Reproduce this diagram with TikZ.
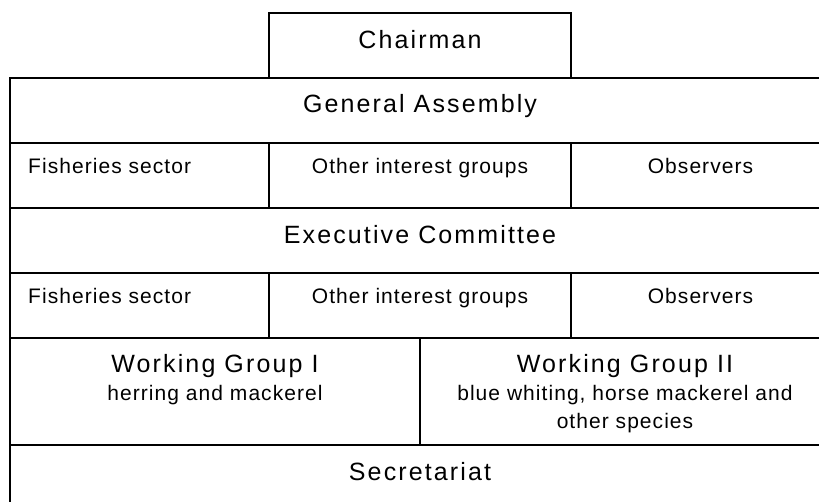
\documentclass[tikz,border=0pt]{standalone}
\usepackage{fontspec}
\setmainfont{Liberation Sans}
\newfontfamily\bigfont[LetterSpace=8.5]{Liberation Sans}
\newfontfamily\smallfont[LetterSpace=5]{Liberation Sans}

\tikzset{
    cell/.style={draw, line width=2pt, anchor=north west, inner sep=0pt, outer sep=0pt, minimum height=65pt},
    bigtxt/.style={font={\bigfont\fontsize{25}{30}\selectfont}, anchor=base, inner sep=0pt},
    smalltxt/.style={font={\smallfont\fontsize{21}{25}\selectfont}, anchor=base, inner sep=0pt}
}

\begin{document}
\begin{tikzpicture}[x=1pt, y=-1pt]
    \useasboundingbox (0,0) rectangle (819,502);
    \clip (0,0) rectangle (819,502);

    % Chairman and General Assembly
    \node[cell, minimum width=302pt] (chair) at (269,13) {};
    \node[bigtxt] (chairtxt) at ([yshift=-36pt]chair.north) {Chairman};
    \node[cell, minimum width=820pt] (assembly) at (10,78) {};
    \node[bigtxt] (assemblytxt) at ([yshift=-35pt]assembly.north) {General Assembly};

    % Members of the assembly
    \node[cell, minimum width=259pt] (fish1) at (10,143) {};
    \node[cell, minimum width=302pt] (other1) at (269,143) {};
    \node[cell, minimum width=259pt] (obs1) at (571,143) {};
    \node[smalltxt, anchor=base west] (fish1txt) at ([xshift=18pt, yshift=-31pt]fish1.north west) {Fisheries sector};
    \node[smalltxt] (other1txt) at ([yshift=-31pt]other1.north) {Other interest groups};
    \node[smalltxt] (obs1txt) at ([yshift=-31pt]obs1.north) {Observers};

    % Executive Committee
    \node[cell, minimum width=820pt] (exec) at (10,208) {};
    \node[bigtxt] (exectxt) at ([yshift=-36pt]exec.north) {Executive Committee};

    % Members of the committee
    \node[cell, minimum width=259pt] (fish2) at (10,273) {};
    \node[cell, minimum width=302pt] (other2) at (269,273) {};
    \node[cell, minimum width=259pt] (obs2) at (571,273) {};
    \node[smalltxt, anchor=base west] (fish2txt) at ([xshift=18pt, yshift=-31pt]fish2.north west) {Fisheries sector};
    \node[smalltxt] (other2txt) at ([yshift=-31pt]other2.north) {Other interest groups};
    \node[smalltxt] (obs2txt) at ([yshift=-31pt]obs2.north) {Observers};

    % Working groups
    \node[cell, minimum width=410pt, minimum height=107pt] (wgone) at (10,338) {};
    \node[cell, minimum width=410pt, minimum height=107pt] (wgtwo) at (420,338) {};
    \node[bigtxt] (wgonetxt) at ([yshift=-35pt]wgone.north) {Working Group I};
    \node[smalltxt] (wgonesub) at ([yshift=-62pt]wgone.north) {herring and mackerel};
    \node[bigtxt] (wgtwotxt) at ([yshift=-35pt]wgtwo.north) {Working Group II};
    \node[smalltxt] (wgtwosub) at ([yshift=-62pt]wgtwo.north) {blue whiting, horse mackerel and};
    \node[smalltxt] (wgtwosubb) at ([yshift=-90pt]wgtwo.north) {other species};

    % Secretariat
    \node[cell, minimum width=820pt] (secr) at (10,445) {};
    \node[bigtxt] (secrtxt) at ([yshift=-35pt]secr.north) {Secretariat};
\end{tikzpicture}
\end{document}
